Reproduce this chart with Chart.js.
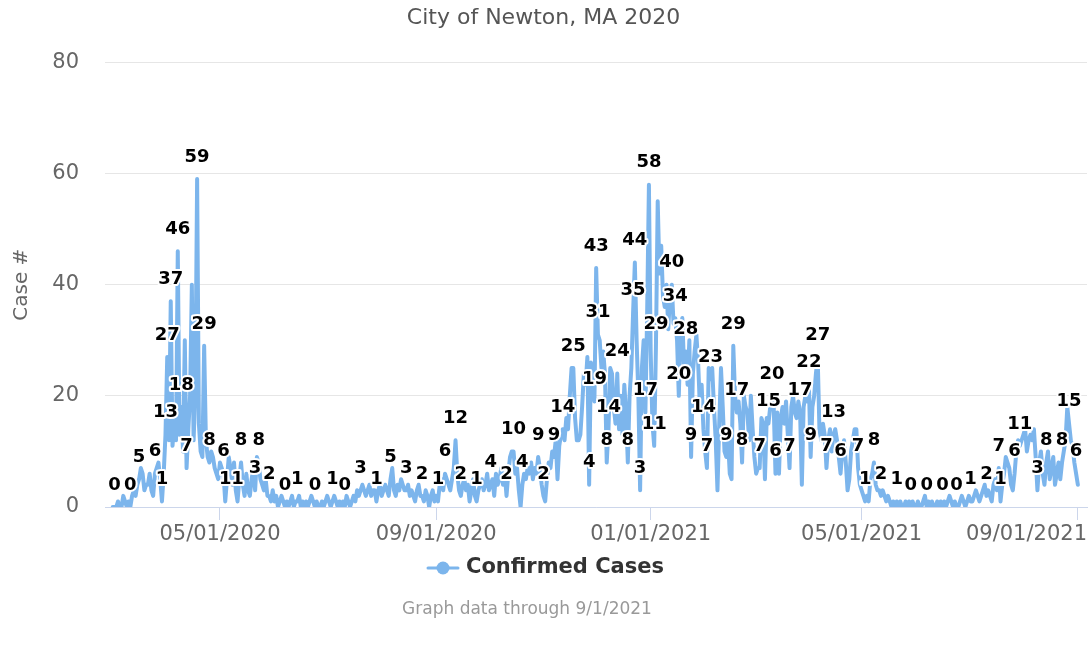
<!DOCTYPE html>
<html>
<head>
<meta charset="utf-8">
<script src="https://cdn.jsdelivr.net/npm/chart.js@4/dist/chart.umd.min.js"></script>
<style>
html,body{margin:0;padding:0;background:#fff;}
canvas{display:block;}
</style>
</head>
<body>
<canvas id="c" width="1092" height="650"></canvas>
<script>
// ---- data ----
const chartTitle = 'City of Newton, MA 2020';
const seriesName = 'Confirmed Cases';
const yAxisTitle = 'Case #';
const captionText = 'Graph data through 9/1/2021';
const startDate = '2020-03-01';
const tickDates = ['2020-05-01','2020-09-01','2021-01-01','2021-05-01','2021-09-01'];
const tickLabels = ['05/01/2020','09/01/2020','01/01/2021','05/01/2021','09/01/2021'];
const yTicks = [0,20,40,60,80];
// daily confirmed cases, one value per day starting at startDate
const cases = [
0,0,0,1,0,0,2,1,0,1,
0,2,3,2,4,5,7,6,3,4,
4,6,3,2,6,7,8,5,1,6,
13,27,12,37,11,15,12,46,13,18,
10,30,7,14,20,40,12,21,59,15,
10,9,29,12,9,8,10,9,7,6,
5,8,7,6,1,5,9,7,4,8,
3,1,5,8,4,2,6,3,2,5,
7,3,9,8,5,4,3,5,2,2,
1,3,1,2,0,1,2,1,0,1,
0,1,2,0,1,1,2,0,1,0,
1,0,1,2,1,0,1,0,0,1,
0,1,2,1,0,1,2,1,0,1,
0,1,0,2,1,0,1,2,1,3,
2,3,4,3,2,3,4,2,3,3,
1,3,4,2,3,4,3,2,5,7,
3,2,4,3,5,4,3,3,4,2,
3,2,1,3,4,2,2,1,3,2,
0,2,3,1,2,1,4,5,3,6,
5,4,3,5,7,12,6,3,2,4,
5,3,4,1,3,5,2,1,3,4,
5,3,4,6,3,4,5,2,6,4,
5,7,4,6,2,6,9,10,10,6,
7,3,0,4,6,5,7,6,8,5,
7,6,9,7,4,2,1,5,8,7,
10,9,12,5,11,13,14,12,16,14,
20,25,25,16,12,12,13,18,24,22,
27,4,26,24,19,43,31,30,25,28,
24,8,14,25,24,18,15,24,14,20,
13,22,17,8,20,25,35,44,30,20,
3,25,30,17,35,58,28,15,11,29,
55,42,47,38,36,40,32,38,40,33,
34,30,20,31,34,25,28,22,30,9,
24,28,31,26,18,22,14,10,7,25,
23,25,18,12,3,15,25,18,10,9,
12,6,5,29,20,17,19,15,8,20,
18,17,12,20,14,9,6,7,7,16,
15,5,16,15,18,20,18,6,17,6,
16,18,15,19,13,7,18,20,17,16,
19,17,4,18,20,19,22,9,18,20,
24,27,14,12,15,13,7,12,14,10,
13,14,12,9,6,10,12,8,3,5,
10,12,14,14,7,4,3,2,1,2,
1,5,6,8,4,3,3,2,3,2,
1,2,1,0,1,0,1,0,1,0,
0,1,0,1,0,1,0,0,1,0,
0,1,2,0,1,0,1,0,0,1,
0,1,0,1,0,1,2,1,0,1,
0,0,1,2,1,0,1,2,1,1,
2,3,2,1,2,3,4,2,3,2,
1,4,5,3,7,1,4,6,9,8,
7,4,3,6,10,12,11,12,13,14,
10,12,13,12,14,9,3,8,10,6,
4,8,10,5,7,9,4,6,8,5,
8,10,12,18,15,12,11,8,6,4
];
// days (index into cases) whose value is printed as a label
const labeledDays = [
1,10,15,24,28,30,31,33,37,39,42,48,52,55,63,64,71,73,81,83,89,98,105,
115,125,132,141,150,158,167,176,185,189,195,198,207,215,224,228,233,
242,245,251,256,262,271,274,275,276,281,282,287,293,296,297,300,303,305,308,309,318,320,322,326,329,336,338,340,
349,353,355,358,368,373,375,377,385,391,396,397,401,406,410,414,424,428,433,437,446,
454,463,472,480,488,497,504,505,513,516,526,531,540,544,548
];

// ---- helpers ----
const FONT = '"DejaVu Sans", Verdana, sans-serif';
const LINE_COLOR = '#7cb5ec';
function dayOffset(iso){
  const a = iso.split('-').map(Number), b = startDate.split('-').map(Number);
  return Math.round((Date.UTC(a[0],a[1]-1,a[2]) - Date.UTC(b[0],b[1]-1,b[2]))/86400000);
}
const tickDays = tickDates.map(dayOffset);
const points = cases.map((v,i)=>({x:i, y:v}));

const valueLabels = {
  id:'valueLabels',
  afterDatasetsDraw(chart){
    const meta = chart.getDatasetMeta(0);
    const ctx = chart.ctx;
    ctx.save();
    ctx.font = 'bold 18px ' + FONT;
    ctx.textAlign = 'center';
    ctx.textBaseline = 'middle';
    ctx.lineJoin = 'round';
    labeledDays.forEach(d=>{
      const el = meta.data[d];
      if(!el) return;
      const t = String(cases[d]);
      const y = el.y - 22;
      ctx.strokeStyle = '#ffffff'; ctx.lineWidth = 4;
      ctx.strokeText(t, el.x, y);
      ctx.fillStyle = '#000000';
      ctx.fillText(t, el.x, y);
    });
    ctx.restore();
  }
};

const extras = {
  id:'extras',
  afterDraw(chart){
    const xs = chart.scales.x, ctx = chart.ctx, area = chart.chartArea;
    ctx.save();
    // x tick labels (last one kept inside the plot, as in the original)
    ctx.font = '21px ' + FONT;
    ctx.fillStyle = '#666666';
    ctx.textBaseline = 'middle';
    ctx.textAlign = 'center';
    tickDays.forEach((d,i)=>{
      const t = tickLabels[i];
      const w = ctx.measureText(t).width;
      let cx = xs.getPixelForValue(d);
      if (cx + w/2 > area.right) cx = area.right - w/2;
      if (cx - w/2 < area.left) cx = area.left + w/2;
      ctx.fillText(t, cx, area.bottom + 28);
    });
    // legend: line + marker + series name
    ctx.font = 'bold 21px ' + FONT;
    const tw = ctx.measureText(seriesName).width;
    const total = 30 + 8 + tw;
    const lx = 546 - total/2, ly = 568;
    ctx.strokeStyle = LINE_COLOR; ctx.lineWidth = 3; ctx.lineCap = 'round';
    ctx.beginPath(); ctx.moveTo(lx, ly); ctx.lineTo(lx + 30, ly); ctx.stroke();
    ctx.fillStyle = LINE_COLOR;
    ctx.beginPath(); ctx.arc(lx + 15, ly, 6.5, 0, Math.PI*2); ctx.fill();
    ctx.fillStyle = '#333333';
    ctx.textAlign = 'left';
    ctx.fillText(seriesName, lx + 38, ly);
    // caption
    ctx.font = '17px ' + FONT;
    ctx.fillStyle = '#999999';
    ctx.textAlign = 'center';
    ctx.fillText(captionText, 527, 610);
    ctx.restore();
  }
};

new Chart(document.getElementById('c'), {
  type:'line',
  data:{
    datasets:[{
      label: seriesName,
      data: points,
      borderColor: LINE_COLOR,
      backgroundColor: LINE_COLOR,
      borderWidth: 4,
      pointRadius: 0,
      pointHoverRadius: 0,
      tension: 0,
      borderJoinStyle: 'round',
      borderCapStyle: 'round'
    }]
  },
  options:{
    responsive:false,
    animation:false,
    events:[],
    layout:{ padding:{ left:0, right:5, top:0, bottom:130 } },
    plugins:{
      title:{
        display:true, text: chartTitle, color:'#555555',
        font:{ family: FONT, size:22, weight:'normal' },
        padding:{ top:5, bottom:31 }
      },
      legend:{ display:false },
      tooltip:{ enabled:false }
    },
    scales:{
      x:{
        type:'linear', min:-4.4, max:554.2,
        afterBuildTicks(s){ s.ticks = tickDays.map(v=>({value:v})); },
        afterFit(s){ s.height = 13; s.paddingLeft = 0; s.paddingRight = 0; },
        ticks:{ display:false },
        grid:{ drawOnChartArea:false, drawTicks:true, tickLength:13, color:'#ccd6eb', lineWidth:1 },
        border:{ display:true, color:'#ccd6eb', width:1 }
      },
      y:{
        min:0, max:80,
        afterBuildTicks(s){ s.ticks = yTicks.map(v=>({value:v})); },
        afterFit(s){ s.width = 105; },
        ticks:{ color:'#666666', font:{ family: FONT, size:21 }, padding:26 },
        grid:{ color:'#e6e6e6', drawTicks:false, lineWidth:1 },
        border:{ display:false },
        title:{ display:true, text: yAxisTitle, color:'#666666',
          font:{ family: FONT, size:20 }, padding:{ top:10, bottom:18 } }
      }
    }
  },
  plugins:[valueLabels, extras]
});
</script>
</body>
</html>
